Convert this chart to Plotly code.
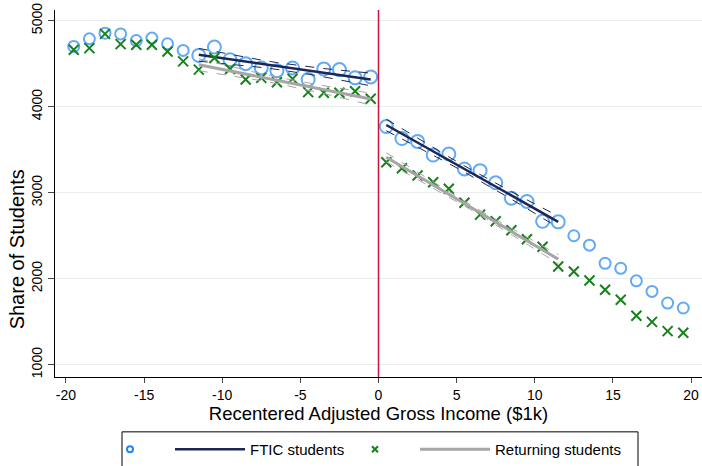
import numpy as np
import plotly.graph_objects as go

# Bin centers (recentered AGI, $1k)
bins = [-19.5, -18.5, -17.5, -16.5, -15.5, -14.5, -13.5, -12.5, -11.5, -10.5,
        -9.5, -8.5, -7.5, -6.5, -5.5, -4.5, -3.5, -2.5, -1.5, -0.5,
        0.5, 1.5, 2.5, 3.5, 4.5, 5.5, 6.5, 7.5, 8.5, 9.5,
        10.5, 11.5, 12.5, 13.5, 14.5, 15.5, 16.5, 17.5, 18.5, 19.5]

ftic = [4700, 4789, 4854, 4846, 4769, 4797, 4731, 4654, 4596, 4693,
        4546, 4500, 4450, 4419, 4450, 4315, 4439, 4431, 4335, 4346,
        3769, 3630, 3596, 3438, 3449, 3276, 3256, 3115, 2936, 2898,
        2667, 2661, 2499, 2390, 2179, 2121, 1975, 1852, 1717, 1659]

returning = [4662, 4681, 4846, 4727, 4719, 4719, 4642, 4527, 4431, 4566,
             4439, 4315, 4335, 4284, 4323, 4169, 4162, 4162, 4180, 4092,
             3353, 3284, 3199, 3122, 3045, 2883, 2745, 2667, 2563, 2459,
             2372, 2141, 2083, 1979, 1871, 1755, 1570, 1498, 1390, 1371]

bandwidth = 11.5
x_ticks = [-20, -15, -10, -5, 0, 5, 10, 15, 20]
y_ticks = [1000, 2000, 3000, 4000, 5000]

BLUE = "#1e88f0"
GREEN = "#16821a"
NAVY = "#1c2754"
GRAY = "#a6a6a6"
RED = "#c8143c"
FONT = "Liberation Sans, Arial, sans-serif"

W, H = 702, 466
ML, MR, MT, MB = 55, 0, 10, 88
PW, PH = W - ML - MR, H - MT - MB


def px_x(px):
    return (px - ML) / PW


def px_y(py):
    return (H - MB - py) / PH


x = np.array(bins)
inside = np.abs(x) <= bandwidth
sizes = np.where(inside, 13, 11)


def fit_ci(xs, ys):
    xs = np.asarray(xs, float)
    ys = np.asarray(ys, float)
    n = len(xs)
    b, a = np.polyfit(xs, ys, 1)
    pred = a + b * xs
    s = np.sqrt(np.sum((ys - pred) ** 2) / (n - 2))
    sxx = np.sum((xs - xs.mean()) ** 2)
    se = s * np.sqrt(1.0 / n + (xs - xs.mean()) ** 2 / sxx)
    t = 2.228
    return xs, pred, pred - t * se, pred + t * se


fig = go.Figure()

fig.add_trace(go.Scatter(x=bins, y=ftic, mode="markers", showlegend=False,
                         marker=dict(symbol="circle-open", size=sizes, color=BLUE,
                                     line=dict(width=2, color=BLUE))))


def add_fits(yvals, color, lw):
    y = np.asarray(yvals, float)
    for mask in [(x < 0) & inside, (x > 0) & inside]:
        xs, pred, lo, hi = fit_ci(x[mask], y[mask])
        for band in (lo, hi):
            fig.add_trace(go.Scatter(x=xs, y=band, mode="lines", showlegend=False,
                                     line=dict(color=color, width=1, dash="dash"),
                                     hoverinfo="skip"))
        fig.add_trace(go.Scatter(x=xs, y=pred, mode="lines", showlegend=False,
                                 line=dict(color=color, width=lw)))


add_fits(ftic, NAVY, 2.5)

fig.add_trace(go.Scatter(x=bins, y=returning, mode="markers", showlegend=False,
                         marker=dict(symbol="x-thin-open", size=10, color=GREEN,
                                     line=dict(width=2, color=GREEN))))

add_fits(returning, GRAY, 3)

# legend entries (one legend each, so symbol widths can differ as in the reference)
fig.add_trace(go.Scatter(x=[None], y=[None], mode="markers", name=" ", legend="legend",
                         marker=dict(symbol="circle-open", size=6, color=BLUE,
                                     line=dict(width=2, color=BLUE))))
fig.add_trace(go.Scatter(x=[None], y=[None], mode="lines", name="FTIC students",
                         legend="legend2", line=dict(color=NAVY, width=2.5)))
fig.add_trace(go.Scatter(x=[None], y=[None], mode="markers", name=" ", legend="legend3",
                         marker=dict(symbol="x-thin-open", size=6, color=GREEN,
                                     line=dict(width=2, color=GREEN))))
fig.add_trace(go.Scatter(x=[None], y=[None], mode="lines", name="Returning students",
                         legend="legend4", line=dict(color=GRAY, width=3)))

fig.add_shape(type="line", x0=0, x1=0, y0=0, y1=1, xref="x", yref="paper",
              line=dict(color=RED, width=1.5), layer="above")

# legend frame
fig.add_shape(type="rect", xref="paper", yref="paper",
              x0=px_x(122), x1=px_x(638), y0=px_y(480), y1=px_y(433),
              line=dict(color="black", width=1), fillcolor="rgba(0,0,0,0)")

leg_common = dict(orientation="h", xanchor="left", y=px_y(434), yanchor="top",
                  borderwidth=0, bgcolor="rgba(0,0,0,0)",
                  font=dict(size=15, family=FONT, color="black"))

fig.update_layout(
    width=W, height=H,
    margin=dict(l=ML, r=MR, t=MT, b=MB),
    plot_bgcolor="white", paper_bgcolor="white",
    font=dict(family=FONT, size=14, color="black"),
    showlegend=True,
    legend=dict(x=px_x(110), itemwidth=30, **leg_common),
    legend2=dict(x=px_x(170), itemwidth=70, **leg_common),
    legend3=dict(x=px_x(355), itemwidth=30, **leg_common),
    legend4=dict(x=px_x(415), itemwidth=70, **leg_common),
    annotations=[dict(text="Share of Students", textangle=-90, xref="paper", yref="paper",
                      x=px_x(17), y=px_y(250), xanchor="center", yanchor="middle",
                      showarrow=False, font=dict(size=20, family=FONT, color="black"))],
)
fig.update_xaxes(range=[-20.7, 20.7], tickvals=x_ticks, ticktext=[str(v) for v in x_ticks],
                 ticks="outside", ticklen=5,
                 showline=True, linecolor="black", linewidth=1, showgrid=False,
                 zeroline=False, tickfont=dict(size=14),
                 title=dict(text="Recentered Adjusted Gross Income ($1k)",
                            font=dict(size=18.5), standoff=4))
fig.update_yaxes(range=[857, 5124], tickvals=y_ticks, ticks="outside", ticklen=6,
                 showline=True, linecolor="black", linewidth=1, showgrid=True,
                 gridcolor="#e8eef0", gridwidth=1, zeroline=False, tickangle=-90,
                 tickfont=dict(size=14))

fig.write_html("out.html")
